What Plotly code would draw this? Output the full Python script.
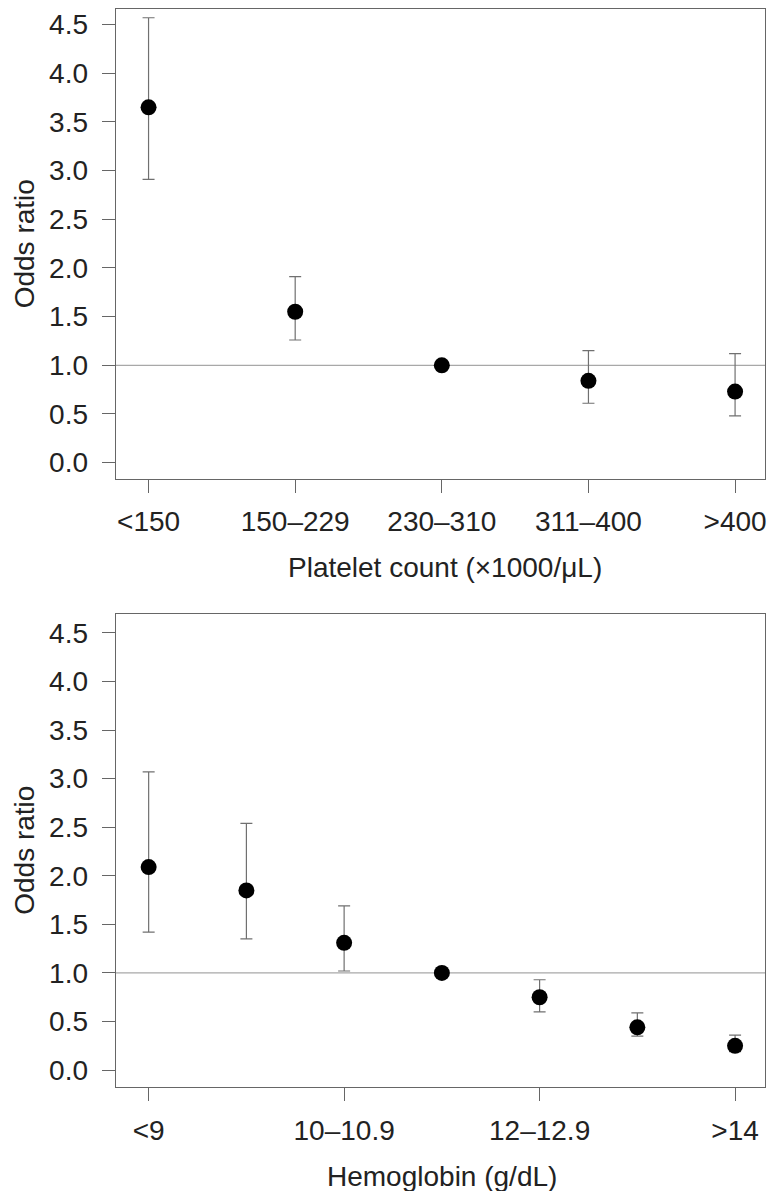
import plotly.graph_objects as go

# Top panel: platelet count
plt_cats = ["<150", "150\u2013229", "230\u2013310", "311\u2013400", ">400"]
plt_or = [3.65, 1.55, 1.00, 0.84, 0.73]
plt_lo = [2.91, 1.26, 1.00, 0.61, 0.48]
plt_hi = [4.57, 1.91, 1.00, 1.15, 1.12]

# Bottom panel: hemoglobin
hb_cats = ["<9", "9\u20139.9", "10\u201310.9", "11\u201311.9", "12\u201312.9", "13\u201313.9", ">14"]
hb_or = [2.09, 1.85, 1.31, 1.00, 0.75, 0.44, 0.25]
hb_lo = [1.42, 1.35, 1.02, 1.00, 0.60, 0.35, 0.19]
hb_hi = [3.07, 2.54, 1.69, 1.00, 0.93, 0.59, 0.36]
hb_labeled = ["<9", "10\u201310.9", "12\u201312.9", ">14"]

y_ticks = [0.0, 0.5, 1.0, 1.5, 2.0, 2.5, 3.0, 3.5, 4.0, 4.5]

# page body has an 8px margin; figure is sized to fit inside the window
OFF = 8
W, H = 776 - 2 * OFF, 1199 - 2 * OFF
FONT = "Liberation Sans, Arial, Helvetica, sans-serif"
AXC = "#666666"
TXT = "#222222"
FS = 28

fig = go.Figure()

def add_panel(cats, orv, lo, hi, xa, ya):
    xs = list(range(len(cats)))
    fig.add_trace(go.Scatter(
        x=xs, y=orv, mode="markers", xaxis=xa, yaxis=ya,
        marker=dict(color="black", size=16),
        error_y=dict(type="data", symmetric=False,
                     array=[h - o for h, o in zip(hi, orv)],
                     arrayminus=[o - l for o, l in zip(orv, lo)],
                     color="#707070", thickness=1.2, width=6),
        showlegend=False, cliponaxis=False))

add_panel(plt_cats, plt_or, plt_lo, plt_hi, "x", "y")
add_panel(hb_cats, hb_or, hb_lo, hb_hi, "x2", "y2")

def clamp(v):
    return max(0.0, min(1.0, v))

def xd(a, b):
    return [clamp((a - OFF) / W), clamp((b - OFF) / W)]

def yd(a, b):
    return [clamp(1 - (b - OFF) / H), clamp(1 - (a - OFF) / H)]

def px(x):
    return (x - OFF) / W

def py(y):
    return 1 - (y - OFF) / H

RIGHT = 767
axis_common = dict(showgrid=False, zeroline=False, showline=True, linecolor=AXC,
                   linewidth=1.2, mirror=True, ticks="outside", tickcolor=AXC,
                   ticklen=13, tickwidth=1.2, ticklabeloverflow="allow",
                   tickfont=dict(family=FONT, size=FS, color=TXT))

fig.update_layout(
    width=W, height=H, margin=dict(l=0, r=0, t=0, b=0),
    paper_bgcolor="white", plot_bgcolor="white",
    xaxis=dict(domain=xd(116, RIGHT), range=[-0.224, (RIGHT - 149) / 147],
               tickmode="array", tickvals=list(range(len(plt_cats))),
               ticktext=plt_cats, anchor="y", ticklabelstandoff=5, **axis_common),
    yaxis=dict(domain=yd(6, 478), range=[-0.164, 4.66],
               tickmode="array", tickvals=y_ticks, ticklabelstandoff=8,
               ticktext=[f"{v:.1f}" for v in y_ticks], anchor="x", **axis_common),
    xaxis2=dict(domain=xd(116, RIGHT), range=[-0.337, (RIGHT - 149) / 98],
                tickmode="array",
                tickvals=[hb_cats.index(c) for c in hb_labeled],
                ticktext=hb_labeled, anchor="y2", ticklabelstandoff=5, **axis_common),
    yaxis2=dict(domain=yd(614, 1087), range=[-0.175, 4.69],
                tickmode="array", tickvals=y_ticks, ticklabelstandoff=8,
                ticktext=[f"{v:.1f}" for v in y_ticks], anchor="x2", **axis_common),
)

# Reference lines at OR = 1
for xr, yr in [("x domain", "y"), ("x2 domain", "y2")]:
    fig.add_shape(type="line", xref=xr, yref=yr, x0=0, x1=1, y0=1, y1=1,
                  line=dict(color="#a8a8a8", width=1.2), layer="below")

ann_font = dict(family=FONT, size=FS, color=TXT)
for yc in (243, 850):
    fig.add_annotation(text="Odds ratio", xref="paper", yref="paper",
                       x=0, y=py(yc), textangle=-90, showarrow=False,
                       font=ann_font, xanchor="left", yanchor="middle", borderpad=0)
fig.add_annotation(text="Platelet count (\u00d71000/\u03bcL)", xref="paper", yref="paper",
                   x=px(446), y=py(567), showarrow=False, font=ann_font,
                   xanchor="center", yanchor="middle")
fig.add_annotation(text="Hemoglobin (g/dL)", xref="paper", yref="paper",
                   x=px(443), y=py(1176), showarrow=False, font=ann_font,
                   xanchor="center", yanchor="middle", borderpad=0)

fig.write_html("out.html")
